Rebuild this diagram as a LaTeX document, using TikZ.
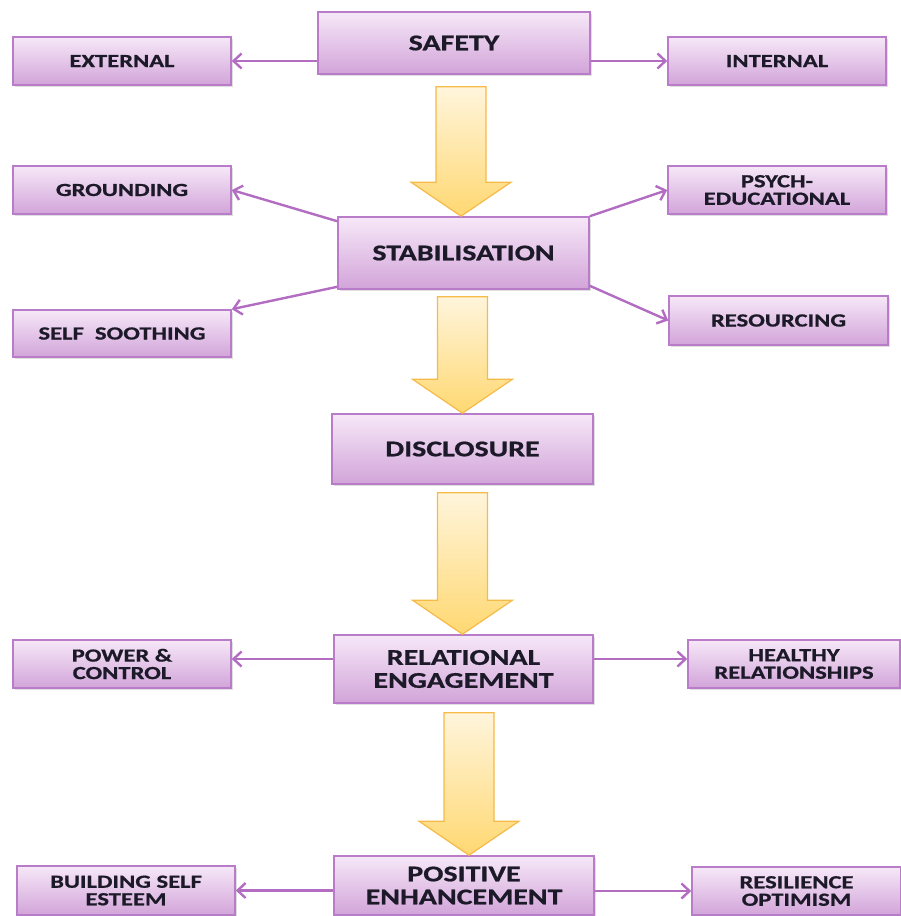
\documentclass[tikz,border=0pt]{standalone}
\usepackage{fontspec}
\setmainfont[FakeStretch=1.33, BoldFeatures={FakeBold=0.8}]{Carlito}
\usetikzlibrary{arrows.meta,shadows,calc}
\definecolor{boxtop}{HTML}{F6E8F8}
\definecolor{boxbot}{HTML}{D2A4D9}
\definecolor{boxline}{HTML}{B87CC8}
\definecolor{linkcol}{HTML}{B26CC2}
\definecolor{arrtop}{HTML}{FFF5DC}
\definecolor{arrbot}{HTML}{FFD872}
\definecolor{arrline}{HTML}{F5BA48}
\definecolor{txt}{HTML}{1C1A28}
\tikzset{
  stagebox/.style={draw=boxline, line width=1.6pt, top color=boxtop, bottom color=boxbot,
    align=center, text=txt, inner sep=0pt, font=\bfseries\fontsize{22.5}{23}\selectfont,
    drop shadow={shadow xshift=1.5pt, shadow yshift=-1.5pt, opacity=0.25}},
  sidebox/.style={stagebox, font=\bfseries\fontsize{18.5}{17.5}\selectfont},
  link/.style={draw=linkcol, line width=2.4pt, -{Straight Barb[length=8pt,width=15pt]}},
  blockarrow/.style={draw=arrline, line width=1.2pt, top color=arrtop, bottom color=arrbot, line join=miter}
}
% block arrow between two stages: from, to, x offset, gap below "from"
\newcommand{\stagearrow}[4]{%
  \draw[blockarrow] let \p1=(#1.south), \p2=(#2.north) in
    (\x2+#3-25pt,\y1-#4) -- (\x2+#3+25pt,\y1-#4) -- (\x2+#3+25pt,\y2+34pt)
    -- (\x2+#3+50pt,\y2+34pt) -- (\x2+#3,\y2) -- (\x2+#3-50pt,\y2+34pt)
    -- (\x2+#3-25pt,\y2+34pt) -- cycle;}
\begin{document}
\begin{tikzpicture}[x=1pt,y=-1pt]
    \useasboundingbox (0,0) rectangle (901,916);

    % Stages
    \node[stagebox, minimum width=272pt, minimum height=62pt] (safety) at (454,43) {SAFETY};
    \node[stagebox, minimum width=251pt, minimum height=72pt] (stab) at (463.5,253) {STABILISATION};
    \node[stagebox, minimum width=261pt, minimum height=70pt] (disclosure) at (462.5,449) {DISCLOSURE};
    \node[stagebox, minimum width=259pt, minimum height=68pt] (relational) at (463.5,669) {RELATIONAL\\ENGAGEMENT};
    \node[stagebox, minimum width=260pt, minimum height=59pt] (positive) at (464,885.5) {POSITIVE\\ENHANCEMENT};

    % Side boxes
    \node[sidebox, minimum width=218pt, minimum height=48pt] (external) at (122,61) {EXTERNAL};
    \node[sidebox, minimum width=218pt, minimum height=48pt] (internal) at (777,61) {INTERNAL};
    \node[sidebox, minimum width=218pt, minimum height=48pt] (grounding) at (122,190) {GROUNDING};
    \node[sidebox, minimum width=218pt, minimum height=47pt] (selfsooth) at (122,333.5) {SELF~~SOOTHING};
    \node[sidebox, minimum width=218pt, minimum height=48pt] (psych) at (777,190) {PSYCH-\\EDUCATIONAL};
    \node[sidebox, minimum width=219pt, minimum height=49pt] (resourcing) at (778.5,320.5) {RESOURCING};
    \node[sidebox, minimum width=218pt, minimum height=48pt] (power) at (122,664) {POWER \&\\CONTROL};
    \node[sidebox, minimum width=212pt, minimum height=48pt] (healthy) at (794,664) {HEALTHY\\RELATIONSHIPS};
    \node[sidebox, minimum width=218pt, minimum height=49pt] (building) at (126,890.5) {BUILDING SELF\\ESTEEM};
    \node[sidebox, minimum width=209pt, minimum height=48pt] (resilience) at (796.5,891) {RESILIENCE\\OPTIMISM};

    % Links to side boxes
    \draw[link] (safety.west |- external.east) -- (external.east);
    \draw[link] (safety.east |- internal.west) -- (internal.west);
    \draw[link] ([yshift=-5pt]stab.north west) -- (grounding.east);
    \draw[link] ([yshift=3pt]stab.south west) -- (selfsooth.north east);
    \draw[link] (stab.north east) -- (psych.west);
    \draw[link] ([yshift=4pt]stab.south east) -- (resourcing.west);
    \draw[link] ([yshift=10pt]relational.west) -- ([yshift=5pt]power.east);
    \draw[link] ([yshift=10pt]relational.east) -- ([yshift=5pt]healthy.west);
    \draw[link] (positive.west |- building.east) -- (building.east);
    \draw[link] (positive.east |- resilience.west) -- (resilience.west);

    % Flow arrows
    \stagearrow{safety}{stab}{-2.5pt}{12pt}
    \stagearrow{stab}{disclosure}{0pt}{7pt}
    \stagearrow{disclosure}{relational}{-1pt}{8pt}
    \stagearrow{relational}{positive}{5pt}{9pt}
\end{tikzpicture}
\end{document}
